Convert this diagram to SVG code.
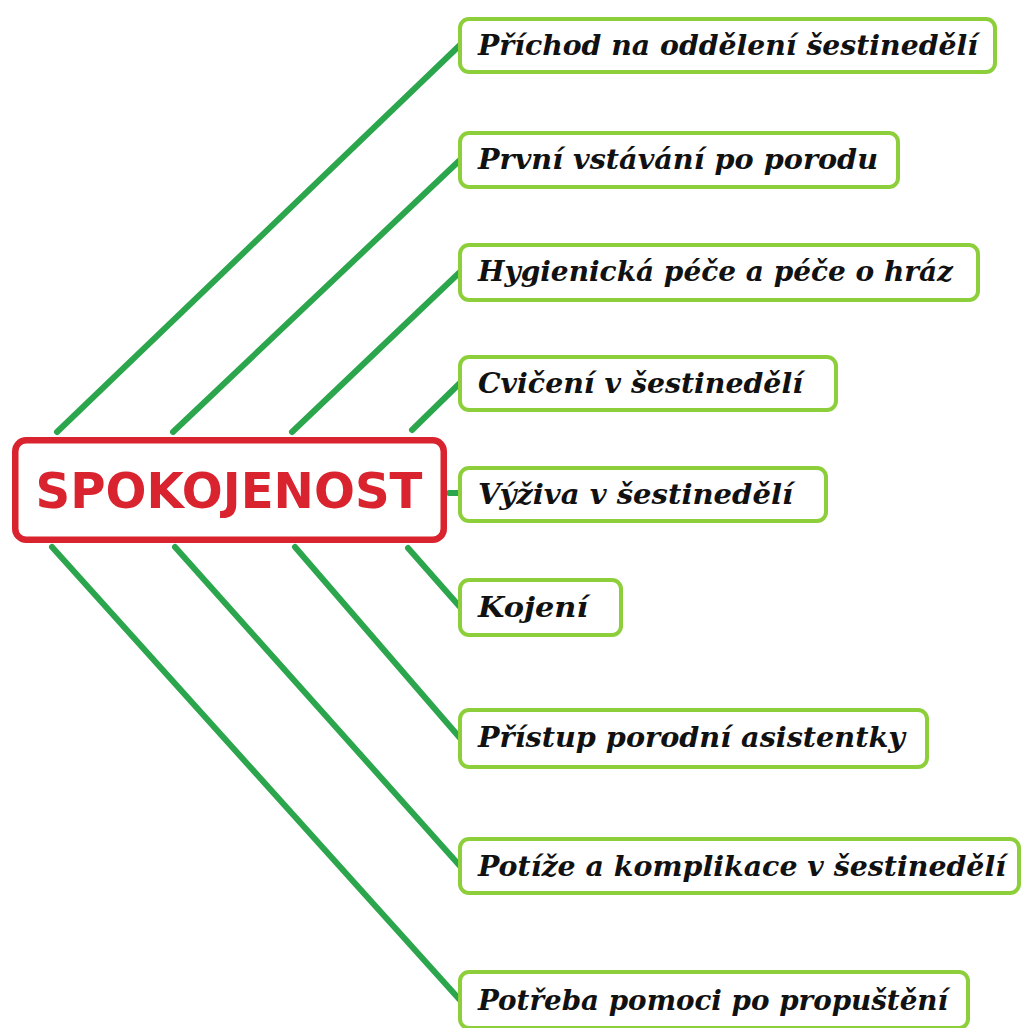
<svg xmlns="http://www.w3.org/2000/svg" width="1023" height="1028" viewBox="0 0 1023 1028">
<style>
.c{stroke:#2ba64c;stroke-width:6;stroke-linecap:round;fill:none}
.b{fill:#ffffff;stroke:#8ccf3a;stroke-width:4}
.t{font-family:"DejaVu Serif",serif;font-weight:bold;font-style:italic;font-size:28px;fill:#111111}
.m{fill:#ffffff;stroke:#d9232e;stroke-width:6.5}
.mt{font-family:"DejaVu Sans",sans-serif;font-weight:bold;font-size:49px;fill:#d9232e}
</style>
<rect width="1023" height="1028" fill="#ffffff"/>
<g id="connectors">
<line class="c" x1="57" y1="432" x2="460" y2="45"/>
<line class="c" x1="173" y1="432" x2="460" y2="160"/>
<line class="c" x1="292" y1="432" x2="460" y2="272"/>
<line class="c" x1="412" y1="430" x2="460" y2="383"/>
<line class="c" x1="449" y1="493" x2="464" y2="493"/>
<line class="c" x1="408" y1="548" x2="460" y2="607"/>
<line class="c" x1="295" y1="547" x2="460" y2="738"/>
<line class="c" x1="175" y1="547" x2="460" y2="866"/>
<line class="c" x1="52" y1="547" x2="460" y2="1000"/>
</g>
<g id="spokojenost">
<rect class="m" x="15.25" y="440.25" width="428.5" height="99.5" rx="11"/>
<text class="mt" x="229" y="508" text-anchor="middle" textLength="387" lengthAdjust="spacingAndGlyphs">SPOKOJENOST</text>
</g>
<g id="n1">
<rect class="b" x="460" y="19" width="535" height="53" rx="9"/>
<text class="t" x="478" y="55" textLength="500" lengthAdjust="spacingAndGlyphs">Příchod na oddělení šestinedělí</text>
</g>
<g id="n2">
<rect class="b" x="460" y="133" width="438" height="54" rx="9"/>
<text class="t" x="478" y="169" textLength="400" lengthAdjust="spacingAndGlyphs">První vstávání po porodu</text>
</g>
<g id="n3">
<rect class="b" x="460" y="245" width="518" height="55" rx="9"/>
<text class="t" x="478" y="281" textLength="475" lengthAdjust="spacingAndGlyphs">Hygienická péče a péče o hráz</text>
</g>
<g id="n4">
<rect class="b" x="460" y="357" width="376" height="53" rx="9"/>
<text class="t" x="478" y="393" textLength="325" lengthAdjust="spacingAndGlyphs">Cvičení v šestinedělí</text>
</g>
<g id="n5">
<rect class="b" x="460" y="468" width="366" height="53" rx="9"/>
<text class="t" x="478" y="504" textLength="315" lengthAdjust="spacingAndGlyphs">Výživa v šestinedělí</text>
</g>
<g id="n6">
<rect class="b" x="460" y="580" width="161" height="55" rx="9"/>
<text class="t" x="478" y="617" textLength="110" lengthAdjust="spacingAndGlyphs">Kojení</text>
</g>
<g id="n7">
<rect class="b" x="460" y="710" width="467" height="57" rx="9"/>
<text class="t" x="478" y="747" textLength="427" lengthAdjust="spacingAndGlyphs">Přístup porodní asistentky</text>
</g>
<g id="n8">
<rect class="b" x="460" y="839" width="559" height="54" rx="9"/>
<text class="t" x="478" y="876" textLength="528" lengthAdjust="spacingAndGlyphs">Potíže a komplikace v šestinedělí</text>
</g>
<g id="n9">
<rect class="b" x="460" y="972" width="508" height="56" rx="9"/>
<text class="t" x="478" y="1010" textLength="470" lengthAdjust="spacingAndGlyphs">Potřeba pomoci po propuštění</text>
</g>
</svg>
